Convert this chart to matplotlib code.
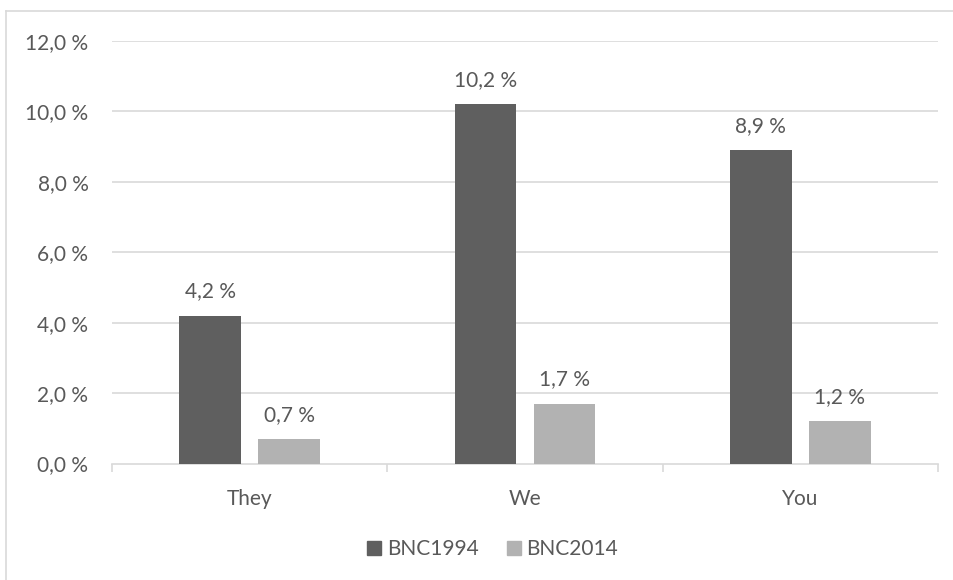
import matplotlib
matplotlib.use("Agg")
import matplotlib.pyplot as plt
import numpy as np
from matplotlib.lines import Line2D
from matplotlib.ticker import FuncFormatter

# data
pronouns = ["They", "We", "You"]
bnc1994 = [4.2, 10.2, 8.9]
bnc2014 = [0.7, 1.7, 1.2]
series_names = ["BNC1994", "BNC2014"]

dark = "#5f5f5f"
light = "#b2b2b2"
grid_c = "#d9d9d9"
txt_c = "#595959"
fs = 15

plt.rcParams["font.family"] = ["Lato", "DejaVu Sans"]

W, H = 954, 580
fig = plt.figure(figsize=(W / 100, H / 100), dpi=100)
ax = fig.add_axes([112 / W, (H - 463.5) / H, (938 - 112) / W, (463.5 - 41) / H])

x = np.arange(len(pronouns))
bw = 0.223
off = 0.1435
b1 = ax.bar(x - off, bnc1994, bw, color=dark, zorder=3)
b2 = ax.bar(x + off, bnc2014, bw, color=light, zorder=3)

# value labels above the bars
for bars, vals in [(b1, bnc1994), (b2, bnc2014)]:
    for rect, v in zip(bars, vals):
        ax.annotate(f"{v:.1f} %".replace(".", ","),
                    (rect.get_x() + rect.get_width() / 2, v),
                    xytext=(0, 13), textcoords="offset points",
                    ha="center", va="baseline", fontsize=fs, color=txt_c)

ax.set_ylim(0, 12)
ax.set_xlim(-0.5, 2.5)
ax.set_yticks(np.arange(0, 13, 2))
ax.yaxis.set_major_formatter(FuncFormatter(lambda v, p: f"{v:.1f} %".replace(".", ",")))
for ymaj in ax.get_yticks()[1:]:
    ax.axhline(ymaj, color=grid_c, lw=1.2, zorder=1)

ax.set_xticks(x)
ax.set_xticklabels(pronouns)
ax.set_xticks([-0.5, 0.5, 1.5, 2.5], minor=True)
ax.tick_params(axis="x", which="major", length=0, pad=18.5, labelsize=fs, labelcolor=txt_c)
ax.tick_params(axis="x", which="minor", length=6, width=1.2, color=grid_c)
ax.tick_params(axis="y", length=0, pad=17, labelsize=fs, labelcolor=txt_c)

for s in ["top", "right", "left"]:
    ax.spines[s].set_visible(False)
ax.spines["bottom"].set_color(grid_c)
ax.spines["bottom"].set_linewidth(1.2)

handles = [Line2D([], [], marker="s", ls="", ms=9.5, color=c) for c in (dark, light)]
fig.legend(handles, series_names, loc="center", bbox_to_anchor=(492 / W, (H - 549) / H),
           ncol=2, frameon=False, fontsize=fs, labelcolor=txt_c,
           handletextpad=0.2, columnspacing=1.3, handlelength=0.8)

# outer chart border (only top/left visible in the crop)
fig.add_artist(Line2D([6 / W, 6 / W], [0, (H - 11) / H], color=grid_c, lw=1.2))
fig.add_artist(Line2D([6 / W, 1], [(H - 11) / H, (H - 11) / H], color=grid_c, lw=1.2))

fig.savefig("out.png", dpi=100)
